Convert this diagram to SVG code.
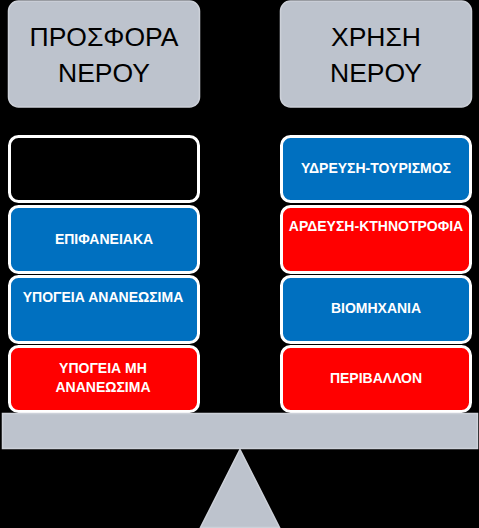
<svg xmlns="http://www.w3.org/2000/svg" width="479" height="528" viewBox="0 0 479 528">
<style>
.hdr{fill:#bdc3cd;stroke:#cdd1d9;stroke-width:1.5}
.hdrt{font-family:"Liberation Sans",Arial,sans-serif;font-size:26.5px;fill:#000;text-anchor:middle}
.box{stroke:#fff;stroke-width:3}
.blue{fill:#0070c0}
.red{fill:#ff0000}
.blk{fill:#000}
.bt{font-family:"Liberation Sans",Arial,sans-serif;font-size:14px;font-weight:bold;fill:#fff;text-anchor:middle}
.scale{fill:#bdc3cd;stroke:#cdd1d9;stroke-width:1.5}
</style>
<rect x="0" y="0" width="479" height="528" fill="#000"/>
<g id="supply-header">
<rect class="hdr" x="8.5" y="1" width="191" height="106" rx="10"/>
<text class="hdrt" x="104" y="46">ΠΡΟΣΦΟΡΑ</text>
<text class="hdrt" x="104" y="82">ΝΕΡΟΥ</text>
</g>
<g id="use-header">
<rect class="hdr" x="280.5" y="1" width="191" height="106" rx="10"/>
<text class="hdrt" x="376" y="46">ΧΡΗΣΗ</text>
<text class="hdrt" x="376" y="82">ΝΕΡΟΥ</text>
</g>
<g id="supply-empty">
<rect class="box blk" x="9.5" y="136.5" width="189" height="65" rx="9"/>
</g>
<g id="supply-surface">
<rect class="box blue" x="9.5" y="206.5" width="189" height="66" rx="9"/>
<text class="bt" x="104" y="244">ΕΠΙΦΑΝΕΙΑΚΑ</text>
</g>
<g id="supply-ground-renewable">
<rect class="box blue" x="9.5" y="276.5" width="189" height="66" rx="9"/>
<text class="bt" x="103" y="302">ΥΠΟΓΕΙΑ ΑΝΑΝΕΩΣΙΜΑ</text>
</g>
<g id="supply-ground-nonrenewable">
<rect class="box red" x="9.5" y="346.5" width="189" height="65" rx="9"/>
<text class="bt" x="103" y="373">ΥΠΟΓΕΙΑ ΜΗ</text>
<text class="bt" x="103" y="392">ΑΝΑΝΕΩΣΙΜΑ</text>
</g>
<g id="use-water-tourism">
<rect class="box blue" x="281.5" y="136.5" width="189" height="65" rx="9"/>
<text class="bt" x="376" y="173">ΥΔΡΕΥΣΗ-ΤΟΥΡΙΣΜΟΣ</text>
</g>
<g id="use-irrigation">
<rect class="box red" x="281.5" y="206.5" width="189" height="66" rx="9"/>
<text class="bt" x="376" y="231">ΑΡΔΕΥΣΗ-ΚΤΗΝΟΤΡΟΦΙΑ</text>
</g>
<g id="use-industry">
<rect class="box blue" x="281.5" y="276.5" width="189" height="66" rx="9"/>
<text class="bt" x="376" y="313">ΒΙΟΜΗΧΑΝΙΑ</text>
</g>
<g id="use-environment">
<rect class="box red" x="281.5" y="346.5" width="189" height="65" rx="9"/>
<text class="bt" x="376" y="383">ΠΕΡΙΒΑΛΛΟΝ</text>
</g>
<g id="connectors"></g>
<g id="balance">
<rect class="scale" x="2.5" y="413.5" width="475" height="35"/>
<polygon class="scale" points="240,449.5 279.5,527.5 200.5,527.5"/>
</g>
</svg>
